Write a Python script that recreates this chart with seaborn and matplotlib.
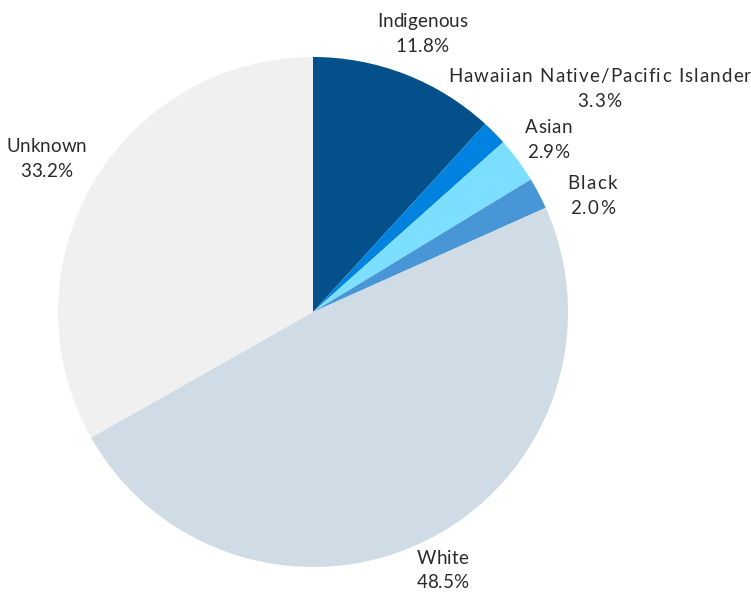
import numpy as np
import matplotlib.pyplot as plt
import matplotlib.transforms as mtransforms
from matplotlib.font_manager import FontProperties
import seaborn as sns

# slice sizes, labels as printed
groups = ['Indigenous', 'Hawaiian Native/Pacific Islander', 'Asian', 'Black', 'White', 'Unknown']
shares = [11.8, 1.6, 2.9, 2.0, 48.5, 33.2]
label_pcts = ['11.8%', '3.3%', '2.9%', '2.0%', '48.5%', '33.2%']
colors = ['#04508a', '#0083e0', '#7ddfff', '#4896d6', '#cfdce6', '#f0f0f0']

sns.set_theme(style='white')
plt.rcParams['font.family'] = ['Lato', 'DejaVu Sans']

fig = plt.figure(figsize=(7.51, 5.92), dpi=100)
ax = fig.add_axes([58 / 751, 25 / 592, 510 / 751, 510 / 592])

wedges, _ = ax.pie(shares, colors=sns.color_palette(colors), startangle=90,
                   counterclock=False, radius=1.0,
                   wedgeprops={'linewidth': 0, 'edgecolor': 'none'})
ax.set_xlim(-1, 1)
ax.set_ylim(-1, 1)
ax.set_aspect('equal')
ax.axis('off')

renderer = fig.canvas.get_renderer()
fsize = 13.5
fprop = FontProperties(family=['Lato', 'DejaVu Sans'], size=fsize)
line_gap = 24.5  # px between label lines


def spaced_text(x, y, lines, track):
    '''draw centred multi-line text with extra letter spacing (px)'''
    n = len(lines)
    for i, line in enumerate(lines):
        dy = (n - 1) / 2 * line_gap - i * line_gap - 2.5
        widths = [renderer.get_text_width_height_descent(c, fprop, ismath=False)[0]
                  for c in line]
        total = sum(widths) + track * (len(line) - 1)
        cx = -total / 2
        for c, w in zip(line, widths):
            tr = mtransforms.offset_copy(ax.transData, fig=fig, x=cx, y=dy, units='dots')
            ax.text(x, y, c, transform=tr, ha='left', va='center',
                    fontproperties=fprop, color='#2b2b2b')
            cx += w + track


# label radius, angle nudges (deg) and letter spacing per slice
label_r = [1.18, 1.43, 1.15, 1.19, 1.125, 1.21]
nudge = [0, -6.4, 0, -4.7, 0, 0]
track = [0, 1.1, 0.3, 1.3, 0, 0]
for w, g, p, r, d, t in zip(wedges, groups, label_pcts, label_r, nudge, track):
    ang = np.deg2rad((w.theta1 + w.theta2) / 2 + d)
    spaced_text(r * np.cos(ang), r * np.sin(ang), [g, p], t)

fig.savefig('out.png', dpi=100)
